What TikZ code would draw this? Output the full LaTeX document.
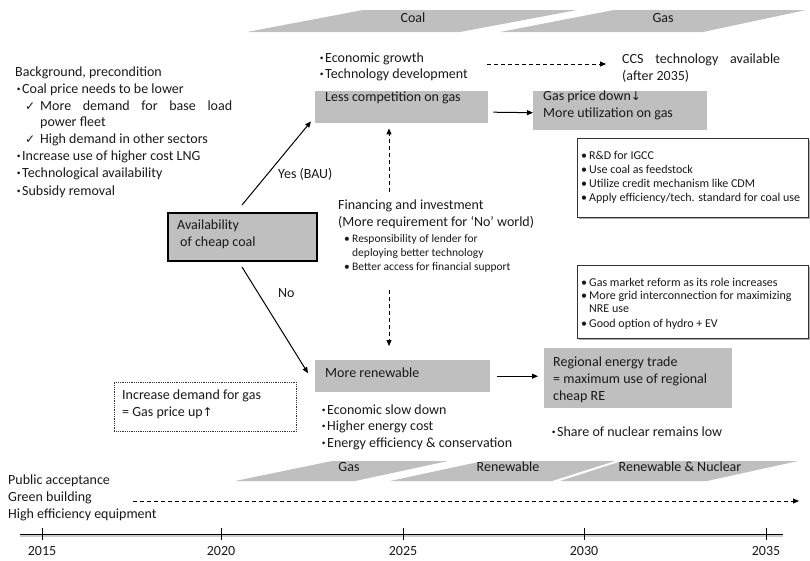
\documentclass[tikz,border=0pt]{standalone}
\usepackage{fontspec}
\setmainfont{Carlito}
\newfontfamily\dejavu{DejaVu Sans}
\usetikzlibrary{arrows.meta,shadows,calc}
\newcommand\jdot{\makebox[7pt][c]{\raisebox{0.18em}{\fontsize{7.5}{7}\selectfont •}}}
\newcommand\chk{\makebox[15pt][l]{{\dejavu\fontsize{12}{10}\selectfont ✓}}}
\newcommand\rbul{\makebox[8pt][l]{•}}
\begin{document}
\begin{tikzpicture}[x=1pt,y=-1pt,
  txt/.style={anchor=west,inner sep=0pt,font=\fontsize{14}{17}\selectfont,text=black!90},
  smalltxt/.style={anchor=west,inner sep=0pt,font=\fontsize{11.5}{13}\selectfont,text=black!90},
  midtxt/.style={anchor=west,inner sep=0pt,font=\fontsize{12}{14}\selectfont,text=black!90},
  ctxt/.style={inner sep=0pt,font=\fontsize{14}{17}\selectfont,text=black!90},
  graybox/.style={fill=black!25,draw=none,anchor=north west,inner sep=0pt},
  banner/.style={fill=black!25,draw=none},
  arr/.style={-{Triangle[length=6pt,width=5pt]},line width=1pt},
  darr/.style={-{Triangle[length=6pt,width=5pt]},dash pattern=on 4pt off 3pt,line width=0.9pt},
  shbox/.style={draw=black!80,fill=white,line width=0.8pt,anchor=north west,inner sep=0pt,
    drop shadow={shadow xshift=2pt,shadow yshift=-2pt,fill=black!45,opacity=0.7}},
]
\useasboundingbox (0,0) rectangle (810,560);

% top banners
\fill[banner] (247,32) -- (363,10) -- (577,10) -- (460,32) -- cycle;
\fill[banner] (500,32) -- (614,10) -- (806,10) -- (703,32) -- cycle;
\node[ctxt] (bcoal) at (413,18) {Coal};
\node[ctxt] (bgas) at (663,18) {Gas};

% bottom banners
\fill[banner] (235,481) -- (332,461) -- (448,461) -- (355,481) -- cycle;
\fill[banner] (390,481) -- (483,461) -- (615,461) -- (552,481) -- cycle;
\fill[banner] (560,481) -- (622,461) -- (798,461) -- (707,481) -- cycle;
\node[ctxt] (bgas2) at (349,467) {Gas};
\node[ctxt] (bren) at (508,467) {Renewable};
\node[ctxt] (bnuc) at (680,467) {Renewable \& Nuclear};

% background text
\node[txt] (bg0) at (15,73) {Background, precondition};
\node[txt] (bg1) at (15,90) {\jdot Coal price needs to be lower};
\node[txt] (bg2) at (25,106) {\chk\makebox[192pt][s]{More demand for base load}};
\node[txt] (bg3) at (40,123) {power fleet};
\node[txt] (bg4) at (25,140) {\chk High demand in other sectors};
\node[txt] (bg5) at (15,157) {\jdot Increase use of higher cost LNG};
\node[txt] (bg6) at (15,174) {\jdot Technological availability};
\node[txt] (bg7) at (15,192) {\jdot Subsidy removal};

% availability box
\node[draw=black,line width=1.5pt,fill=black!25,anchor=north west,minimum width=149pt,minimum height=48pt,inner sep=0pt] (avail) at (167,212) {};
\node[txt] (av1) at (177,226) {Availability};
\node[txt] (av2) at (180,243) {of cheap coal};

% upper branch
\node[txt] (ec1) at (318,59) {\jdot Economic growth};
\node[txt] (ec2) at (318,75) {\jdot Technology development};
\coordinate (dashS) at (487,64);
\coordinate (dashE) at (606,64);
\draw[darr] (dashS) -- (dashE);
\node[txt] (ccs1) at (622,60) {\makebox[158pt][s]{CCS technology available}};
\node[txt] (ccs2) at (622,76) {(after 2035)};

\node[graybox,minimum width=173pt,minimum height=32pt] (less) at (315,91) {};
\node[txt] (lesst) at (325,98) {Less competition on gas};
\node[graybox,minimum width=174pt,minimum height=39pt] (gas) at (533,91) {};
\node[txt] (gast1) at (543,97) {Gas price down{\dejavu\fontsize{12}{13}\selectfont ↓}};
\node[txt] (gast2) at (543,114) {More utilization on gas};
\draw[arr] ($(less.east)+(5,5)$) -- ($(gas.west)+(0,2)$);

\node[shbox,minimum width=231pt,minimum height=79pt] (rb1) at (577,138) {};
\node[midtxt] (r11) at (581,155) {\rbul R\&D for IGCC};
\node[midtxt] (r12) at (581,169) {\rbul Use coal as feedstock};
\node[midtxt] (r13) at (581,183) {\rbul Utilize credit mechanism like CDM};
\node[midtxt] (r14) at (581,198) {\rbul Apply efficiency/tech. standard for coal use};

% branch labels and arrows
\node[txt] (yes) at (278,174) {Yes (BAU)};
\node[txt] (no) at (278,293) {No};
\coordinate (yesS) at (242,205);
\coordinate (noS) at (242,267);
\draw[arr] (yesS) -- ($(less.south west)+(-4,-2)$);

% financing
\node[txt] (fin1) at (338,206) {Financing and investment};
\node[txt] (fin2) at (338,223) {(More requirement for ‘No’ world)};
\node[smalltxt] (fin3) at (344,239) {\rbul Responsibility of lender for};
\node[smalltxt] (fin4) at (352,253) {deploying better technology};
\node[smalltxt] (fin5) at (344,267) {\rbul Better access for financial support};
\coordinate (finT) at (389,192);
\coordinate (finB) at (389,290);
\draw[darr] (finT) -- ($(finT |- less.south)+(0,5)$);

% lower branch
\node[graybox,minimum width=175pt,minimum height=32pt] (ren) at (315,360) {};
\node[txt] (rent) at (325,373) {More renewable};
\draw[arr] (noS) -- ($(ren.west)+(-7,-3)$);
\draw[darr] (finB) -- ($(finB |- ren.north)+(0,-14)$);
\node[txt] (rs1) at (320,410) {\jdot Economic slow down};
\node[txt] (rs2) at (320,427) {\jdot Higher energy cost};
\node[txt] (rs3) at (320,444) {\jdot Energy efficiency \& conservation};

\node[draw=black!80,densely dotted,line width=0.8pt,anchor=north west,minimum width=182pt,minimum height=49pt,inner sep=0pt] (dot) at (114,382) {};
\node[txt] (dt1) at (122,396) {Increase demand for gas};
\node[txt] (dt2) at (122,413) {= Gas price up{\dejavu\fontsize{12}{13}\selectfont ↑}};

\node[graybox,minimum width=188pt,minimum height=60pt] (reg) at (544,348) {};
\node[txt] (rg1) at (553,363) {Regional energy trade};
\node[txt] (rg2) at (553,380) {= maximum use of regional};
\node[txt] (rg3) at (553,397) {cheap RE};
\draw[arr] ($(ren.east)+(7,0)$) -- ($(reg.west |- ren.east)+(-6,0)$);
\node[txt] (nuc) at (550,432) {\jdot Share of nuclear remains low};

\node[shbox,minimum width=231pt,minimum height=73pt] (rb2) at (577,265) {};
\node[midtxt] (r21) at (581,282) {\rbul Gas market reform as its role increases};
\node[midtxt] (r22) at (581,296) {\rbul More grid interconnection for maximizing};
\node[midtxt] (r23) at (589,309) {NRE use};
\node[midtxt] (r24) at (581,324) {\rbul Good option of hydro + EV};

% bottom
\node[txt] (pa) at (8,481) {Public acceptance};
\node[txt] (gb) at (8,498) {Green building};
\node[txt] (he) at (8,515) {High efficiency equipment};
\coordinate (bdS) at (133,501);
\coordinate (bdE) at (799,501);
\draw[darr] (bdS) -- (bdE);

\coordinate (tlS) at (20,534);
\coordinate (tlE) at (783,534);
\draw[black!20,line width=2pt] ($(tlS)+(0,1.5)$) -- ($(tlE)+(0,1.5)$);
\draw[black,line width=0.9pt] (tlS) -- (tlE);
\foreach \x/\yr in {42/2015,221/2020,403/2025,584/2030,766/2035}{
  \draw[line width=0.9pt] (\x,528) -- (\x,540);
  \node[ctxt] (y\yr) at (\x,551) {\yr};
}
\end{tikzpicture}
\end{document}
